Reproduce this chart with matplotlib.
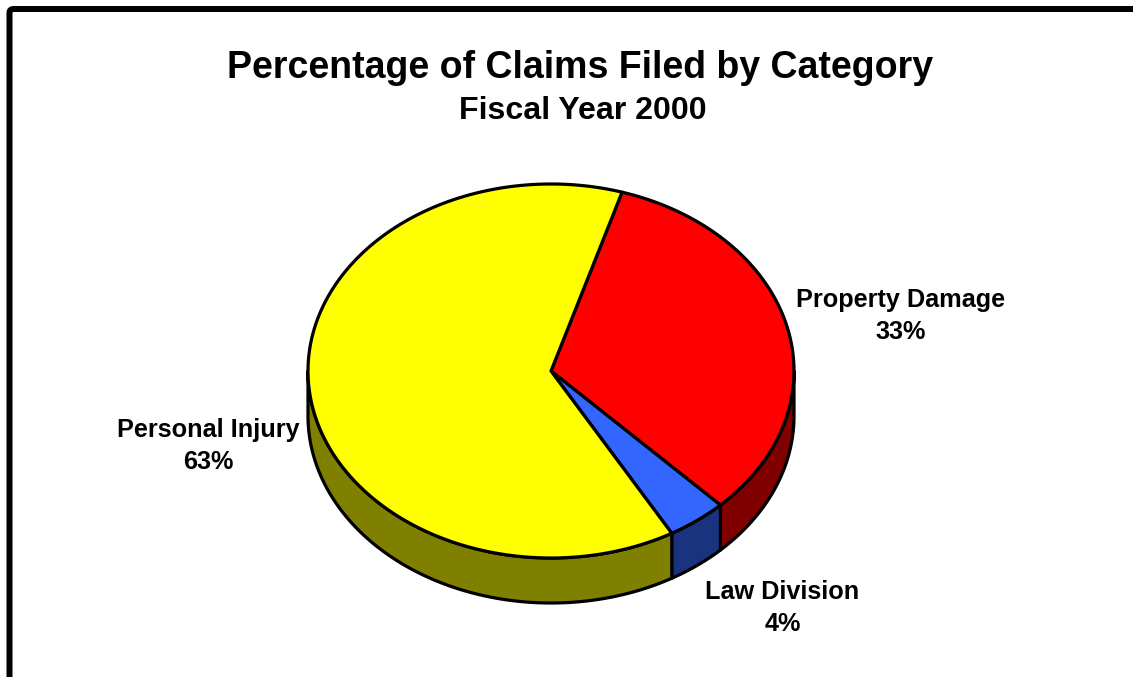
import matplotlib
matplotlib.use("Agg")
import matplotlib.pyplot as plt
from matplotlib.patches import Polygon, FancyBboxPatch
import numpy as np

TITLE = "Percentage of Claims Filed by Category"
SUBTITLE = "Fiscal Year 2000"

# clockwise from the yellow/red edge
categories = ["Property Damage", "Law Division", "Personal Injury"]
percents = [33, 4, 63]
top_colors = ["#FF0000", "#3366FF", "#FFFF00"]
side_colors = ["#800000", "#19337F", "#808000"]

CX, CY = 551, 371
RX, RY = 243, 187
DEPTH = 45
START_ANGLE = 17
EDGE = 3.2 * 0.72

plt.rcParams["font.family"] = ["Liberation Sans", "DejaVu Sans"]

fig = plt.figure(figsize=(11.33, 6.77), dpi=100)
ax = fig.add_axes([0, 0, 1, 1])
ax.set_xlim(0, 1133)
ax.set_ylim(677, 0)
ax.set_axis_off()


def arc(a0, a1, drop=0):
    # angles clockwise from straight up, squashed into the tilted ellipse
    t = np.radians(np.linspace(a0, a1, max(int(abs(a1 - a0) * 2), 2)))
    return np.column_stack([CX + RX * np.sin(t), CY - RY * np.cos(t) + drop])


# frame runs off the right and bottom of the picture
ax.add_patch(FancyBboxPatch((9.5, 9), 1300, 900, boxstyle="round,pad=0,rounding_size=4",
                            fc="white", ec="black", lw=6 * 0.72, zorder=1))

angles = START_ANGLE + np.concatenate([[0], np.cumsum(percents)]) * 3.6

# rim first, only the part facing the viewer
for i in range(len(percents)):
    a0, a1 = max(angles[i], 90), min(angles[i + 1], 270)
    if a1 <= a0:
        continue
    pts = np.vstack([arc(a0, a1), arc(a0, a1, DEPTH)[::-1]])
    ax.add_patch(Polygon(pts, closed=True, fc=side_colors[i], ec="black", lw=EDGE,
                         joinstyle="round", zorder=2))

for i in range(len(percents)):
    pts = np.vstack([[CX, CY], arc(angles[i], angles[i + 1])])
    ax.add_patch(Polygon(pts, closed=True, fc=top_colors[i], ec="black", lw=EDGE,
                         joinstyle="round", zorder=3))

ax.text(580.5, 68, TITLE, ha="center", va="center", fontsize=27, fontweight="bold")
ax.text(583, 111, SUBTITLE, ha="center", va="center", fontsize=23.1, fontweight="bold")

label_pos = [(901, 316), (782.5, 608), (208, 446)]
for name, pct, (x, y) in zip(categories, percents, label_pos):
    ax.text(x, y, f"{name}\n{pct}%", ha="center", va="center", fontsize=18.2,
            fontweight="bold", linespacing=1.43)

fig.savefig("out.png", dpi=100)
